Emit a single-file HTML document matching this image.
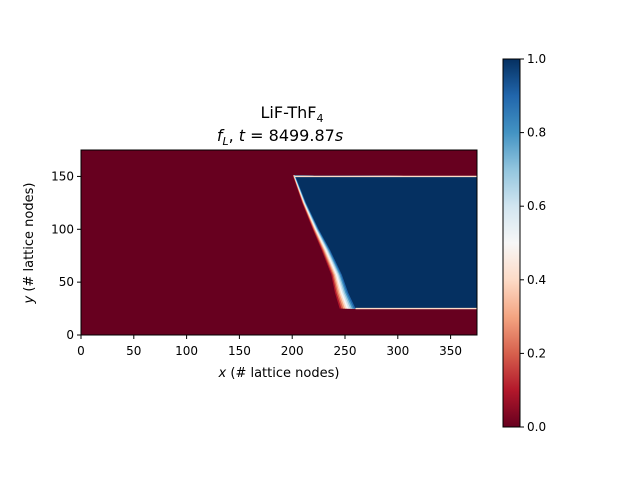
<!DOCTYPE html>
<html><head><meta charset="utf-8"><style>
body{margin:0;background:#fff}
svg text{font-family:"DejaVu Sans","Liberation Sans",sans-serif;fill:#000}
</style></head><body>
<svg id="c" width="640" height="480" xmlns="http://www.w3.org/2000/svg">
<defs>
<linearGradient id="cb" x1="0" y1="1" x2="0" y2="0">
<stop offset="0" stop-color="#67001f"/><stop offset="0.1" stop-color="#b2182b"/><stop offset="0.2" stop-color="#d6604d"/><stop offset="0.3" stop-color="#f4a582"/><stop offset="0.4" stop-color="#fddbc7"/><stop offset="0.5" stop-color="#f7f7f7"/><stop offset="0.6" stop-color="#d1e5f0"/><stop offset="0.7" stop-color="#92c5de"/><stop offset="0.8" stop-color="#4393c3"/><stop offset="0.9" stop-color="#2166ac"/><stop offset="1" stop-color="#053061"/>
</linearGradient>
<clipPath id="pc"><rect x="81" y="150" width="396" height="185"/></clipPath>
</defs>
<text x="292" y="118" font-size="16" text-anchor="middle">LiF-ThF<tspan font-size="11" dy="4">4</tspan></text>
<text x="280" y="141" font-size="16" text-anchor="middle"><tspan font-style="italic">f</tspan><tspan font-style="italic" font-size="11" dy="4">L</tspan><tspan dy="-4">, </tspan><tspan font-style="italic">t</tspan> = 8499.87<tspan font-style="italic">s</tspan></text>
<g id="plot" clip-path="url(#pc)"></g>
<rect x="81" y="150" width="396" height="185" fill="none" stroke="#000" stroke-width="1"/>
<g id="axes"></g>
<text x="279" y="377" font-size="13" text-anchor="middle"><tspan font-style="italic">x</tspan> (# lattice nodes)</text>
<text transform="translate(33,243) rotate(-90)" font-size="13" text-anchor="middle"><tspan font-style="italic">y</tspan> (# lattice nodes)</text>
<rect x="503" y="59" width="17" height="368" fill="url(#cb)" stroke="#000" stroke-width="1"/>
<g id="cbax"></g>
</svg>
<script>
const xTicks=[0,50,100,150,200,250,300,350];
const yTicks=[0,50,100,150];
const cbTicks=[0,0.2,0.4,0.6,0.8,1.0];
const frontY=[151,125,100,80,57,40,25];
const frontX=[202.6,213,225,236,247,253,260];
const frontWidth=[2,3.5,5.5,8,10,12.5,15];
const topY=150, botY=25, xMax=375, yMax=175;
const ns="http://www.w3.org/2000/svg";
const X=v=>81+v*396/xMax, Y=v=>335-v*185/yMax;
const svg=document.getElementById('c');
function mk(t,a,p){const e=document.createElementNS(ns,t);for(const k in a)e.setAttribute(k,a[k]);(p||svg).appendChild(e);return e;}
const plot=document.getElementById('plot');
const bg=mk('rect',{x:81,y:150,width:396,height:185,fill:'#67001f'},plot);


const cols=['#b2182b','#d6604d','#f4a582','#fddbc7','#f7f7f7','#d1e5f0','#92c5de','#4393c3','#2166ac','#053061'];
cols.forEach((c,i)=>{
  const f=(cols.length-1-i)/(cols.length-1);
  let pts=[];
  for(let j=0;j<frontY.length;j++){
    pts.push(X(frontX[j]-frontWidth[j]*f)+','+Y(frontY[j]));
  }
  pts.push(X(xMax)+','+Y(botY));pts.push(X(xMax)+','+Y(topY));
  const p=mk('polygon',{points:pts.join(' '),fill:c,'stroke-linejoin':'round'},plot);
  
  
});
const l1=mk('line',{x1:X(frontX[0]),y1:Y(topY),x2:X(xMax),y2:Y(topY),stroke:'#fddbc7','stroke-width':1.3},plot);


const l2=mk('line',{x1:X(frontX[frontX.length-1]),y1:Y(botY),x2:X(xMax),y2:Y(botY),stroke:'#fddbc7','stroke-width':1.3},plot);


const ax=document.getElementById('axes');
xTicks.forEach(v=>{
  mk('line',{x1:X(v),y1:335,x2:X(v),y2:339,stroke:'#000'},ax);
  const t=mk('text',{x:X(v),y:355,'font-size':12,'text-anchor':'middle'},ax);t.textContent=v;
  
  
});
yTicks.forEach(v=>{
  mk('line',{x1:77,y1:Y(v),x2:81,y2:Y(v),stroke:'#000'},ax);
  const t=mk('text',{x:74,y:Y(v)+4,'font-size':12,'text-anchor':'end'},ax);t.textContent=v;
  
  
});
const cb=document.getElementById('cbax');
cbTicks.forEach(v=>{
  const y=427-v*368;
  mk('line',{x1:520,y1:y,x2:524,y2:y,stroke:'#000'},cb);
  const t=mk('text',{x:527,y:y+4,'font-size':12},cb);t.textContent=v.toFixed(1);
  
  
});
</script>
</body></html>
